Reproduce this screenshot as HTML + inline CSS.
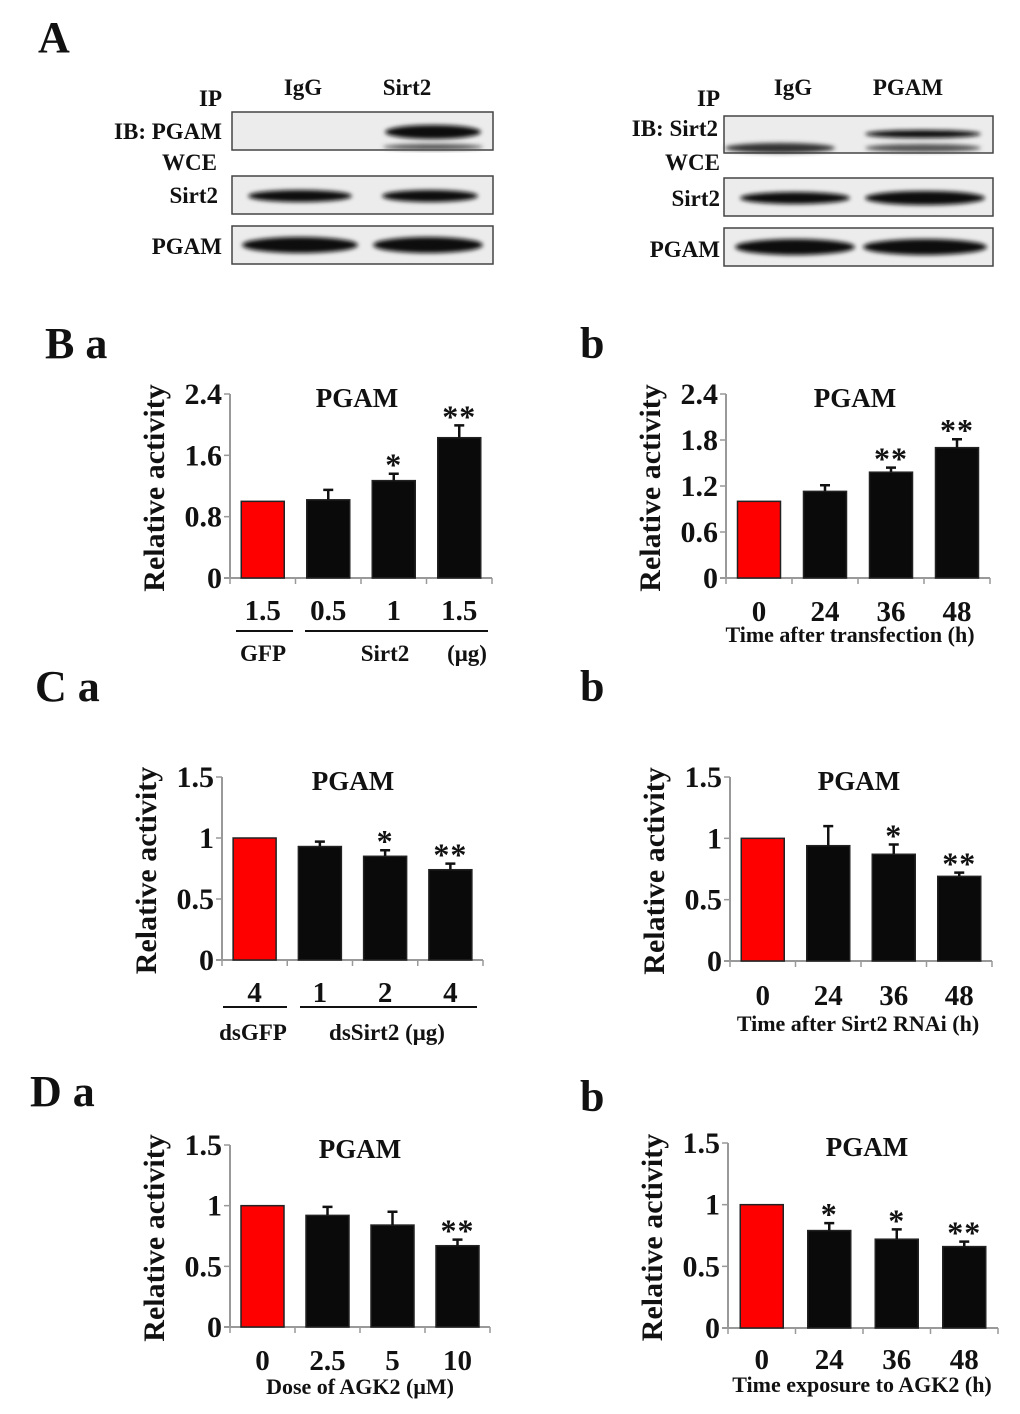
<!DOCTYPE html>
<html><head><meta charset="utf-8"><style>
html,body{margin:0;padding:0;background:#fff}
svg{display:block}
text{font-family:"Liberation Serif",serif;font-weight:bold;fill:#111}
</style></head><body>
<svg id="fig" width="1020" height="1414" viewBox="0 0 1020 1414" xmlns="http://www.w3.org/2000/svg">
<defs>
<filter id="blur" x="-20%" y="-50%" width="140%" height="200%"><feGaussianBlur stdDeviation="2.2"/></filter>
</defs>
<g>
<text x="38" y="52" font-size="44">A</text>
<g>
<text x="222" y="106" font-size="23" text-anchor="end">IP</text>
<text x="303" y="95" font-size="23" text-anchor="middle">IgG</text>
<text x="407" y="95" font-size="23" text-anchor="middle">Sirt2</text>
<text x="222" y="139" font-size="23" text-anchor="end">IB: PGAM</text>
<text x="217" y="170" font-size="23" text-anchor="end">WCE</text>
<text x="218" y="203" font-size="23" text-anchor="end">Sirt2</text>
<text x="222" y="254" font-size="23" text-anchor="end">PGAM</text>
<rect x="232" y="112" width="261" height="38" fill="#ececec" stroke="#444" stroke-width="1.5"/>
<ellipse cx="433" cy="132" rx="48" ry="7" fill="#111" filter="url(#blur)"/>
<ellipse cx="433" cy="147" rx="50" ry="3" fill="#555" filter="url(#blur)"/>
<rect x="232" y="176" width="261" height="38" fill="#ececec" stroke="#444" stroke-width="1.5"/>
<ellipse cx="300" cy="196" rx="52" ry="6" fill="#111" filter="url(#blur)"/>
<ellipse cx="430" cy="196" rx="48" ry="6" fill="#111" filter="url(#blur)"/>
<rect x="232" y="226" width="261" height="38" fill="#ececec" stroke="#444" stroke-width="1.5"/>
<ellipse cx="300" cy="245" rx="58" ry="8" fill="#111" filter="url(#blur)"/>
<ellipse cx="428" cy="245" rx="55" ry="8" fill="#111" filter="url(#blur)"/>
</g>
<g>
<text x="720" y="106" font-size="23" text-anchor="end">IP</text>
<text x="793" y="95" font-size="23" text-anchor="middle">IgG</text>
<text x="908" y="95" font-size="23" text-anchor="middle">PGAM</text>
<text x="718" y="136" font-size="23" text-anchor="end">IB: Sirt2</text>
<text x="720" y="170" font-size="23" text-anchor="end">WCE</text>
<text x="720" y="206" font-size="23" text-anchor="end">Sirt2</text>
<text x="720" y="257" font-size="23" text-anchor="end">PGAM</text>
<rect x="724" y="116" width="269" height="37" fill="#ececec" stroke="#444" stroke-width="1.5"/>
<ellipse cx="923" cy="134" rx="58" ry="4" fill="#111" filter="url(#blur)"/>
<ellipse cx="780" cy="148" rx="55" ry="5" fill="#333" filter="url(#blur)"/>
<ellipse cx="923" cy="148" rx="58" ry="4" fill="#555" filter="url(#blur)"/>
<rect x="724" y="178" width="269" height="38" fill="#ececec" stroke="#444" stroke-width="1.5"/>
<ellipse cx="795" cy="198" rx="55" ry="6" fill="#111" filter="url(#blur)"/>
<ellipse cx="925" cy="198" rx="60" ry="7" fill="#111" filter="url(#blur)"/>
<rect x="724" y="228" width="269" height="38" fill="#ececec" stroke="#444" stroke-width="1.5"/>
<ellipse cx="795" cy="247" rx="60" ry="8" fill="#111" filter="url(#blur)"/>
<ellipse cx="925" cy="247" rx="62" ry="8" fill="#111" filter="url(#blur)"/>
</g>
</g>
<text x="45" y="358" font-size="44">B a</text>
<text x="580" y="358" font-size="44">b</text>
<text x="35" y="701" font-size="44">C a</text>
<text x="580" y="701" font-size="44">b</text>
<text x="30" y="1106" font-size="44">D a</text>
<text x="580" y="1111" font-size="44">b</text>
<g id="charts"></g>
</svg>
<script>
// Chart data
const baCategories = ["1.5","0.5","1","1.5"];
const baValues = [1.0, 1.02, 1.27, 1.83];
const baErrors = [0, 0.13, 0.09, 0.16];
const baStars = ["", "", "*", "**"];
const baTicks = [0, 0.8, 1.6, 2.4];

const bbCategories = ["0","24","36","48"];
const bbValues = [1.0, 1.13, 1.38, 1.70];
const bbErrors = [0, 0.08, 0.06, 0.11];
const bbStars = ["", "", "**", "**"];
const bbTicks = [0, 0.6, 1.2, 1.8, 2.4];

const caCategories = ["4","1","2","4"];
const caValues = [1.0, 0.93, 0.85, 0.74];
const caErrors = [0, 0.04, 0.05, 0.05];
const caStars = ["", "", "*", "**"];
const caTicks = [0, 0.5, 1, 1.5];

const cbCategories = ["0","24","36","48"];
const cbValues = [1.0, 0.94, 0.87, 0.69];
const cbErrors = [0, 0.16, 0.08, 0.03];
const cbStars = ["", "", "*", "**"];
const cbTicks = [0, 0.5, 1, 1.5];

const daCategories = ["0","2.5","5","10"];
const daValues = [1.0, 0.92, 0.84, 0.67];
const daErrors = [0, 0.07, 0.11, 0.05];
const daStars = ["", "", "", "**"];
const daTicks = [0, 0.5, 1, 1.5];

const dbCategories = ["0","24","36","48"];
const dbValues = [1.0, 0.79, 0.72, 0.66];
const dbErrors = [0, 0.06, 0.08, 0.04];
const dbStars = ["", "*", "*", "**"];
const dbTicks = [0, 0.5, 1, 1.5];

const NS = "http://www.w3.org/2000/svg";
const root = document.getElementById("charts");
function mk(tag, attrs, parent) {
  const e = document.createElementNS(NS, tag);
  for (const k in attrs) e.setAttribute(k, attrs[k]);
  parent.appendChild(e);
  return e;
}
function chart(id, L, cats, vals, errs, stars, ticks) {
  const g = mk("g", {}, root);
  
  
  const ymax = ticks[ticks.length - 1];
  const y = v => L.y0 - (v / ymax) * (L.y0 - L.yTop);
  const n = cats.length;
  const slot = (L.xEnd - L.ax) / n;
  const bw = 43;
  const cx = i => L.ax + slot * (i + 0.5);
  const ya = mk("line", {x1: L.ax, x2: L.ax, y1: L.yTop, y2: L.y0, stroke: "#999", "stroke-width": 2}, g);
  
  
  const xa = mk("line", {x1: L.ax - 6, x2: L.xEnd, y1: L.y0, y2: L.y0, stroke: "#999", "stroke-width": 2}, g);
  
  
  for (let i = 0; i <= n; i++) {
    const xx = L.ax + slot * i;
    mk("line", {x1: xx, x2: xx, y1: L.y0, y2: L.y0 + 6, stroke: "#999", "stroke-width": 1.5}, g);
  }
  ticks.forEach(t => {
    mk("line", {x1: L.ax - 6, x2: L.ax, y1: y(t), y2: y(t), stroke: "#999", "stroke-width": 1.5}, g);
    const tl = mk("text", {x: L.ax - 8, y: y(t) + 10, "font-size": 30, "text-anchor": "end"}, g);
    tl.textContent = String(t);
    
    
  });
  const yl = mk("text", {x: 0, y: 0, "font-size": 30, "text-anchor": "middle",
    transform: `translate(${L.ax - 66},${(L.yTop + L.y0) / 2 + 2}) rotate(-90)`}, g);
  yl.textContent = "Relative activity";
  
  
  const tt = mk("text", {x: L.titleX, y: L.yTop + 13, "font-size": 27, "text-anchor": "middle"}, g);
  tt.textContent = "PGAM";
  
  
  vals.forEach((v, i) => {
    const b = mk("rect", {x: cx(i) - bw / 2, y: y(v), width: bw, height: L.y0 - y(v),
      fill: i === 0 ? "#ff0000" : "#0a0a0a", stroke: "#222", "stroke-width": 1.5}, g);
    
    
    if (errs[i] > 0) {
      const top = y(v + errs[i]);
      const e = mk("path", {d: `M${cx(i)},${y(v)} V${top} M${cx(i) - 5},${top} H${cx(i) + 5}`, stroke: "#111", "stroke-width": 2.5, fill: "none"}, g);
      
      
    }
    if (stars[i]) {
      const s = mk("text", {x: cx(i), y: y(v + errs[i]) + 2, "font-size": 32, "text-anchor": "middle", "font-weight": "normal", "letter-spacing": "1"}, g);
      s.textContent = stars[i];
      
      
    }
    const cl = mk("text", {x: cx(i), y: L.labY, "font-size": 29, "text-anchor": "middle"}, g);
    cl.textContent = cats[i];
    
    
  });
  (L.extra || []).forEach(ex => {
    if (ex.line) {
      const ln = mk("line", {x1: ex.line[0], x2: ex.line[1], y1: ex.y, y2: ex.y, stroke: "#111", "stroke-width": 2}, g);
      
      
    } else {
      const t = mk("text", {x: ex.x, y: ex.y, "font-size": ex.fs || 23, "text-anchor": "middle"}, g);
      t.textContent = ex.text;
      
      
    }
  });
}
chart("ba", {ax: 230, xEnd: 492, yTop: 394, y0: 578, titleX: 357, labY: 620,
  extra: [{line: [236, 293], y: 631}, {line: [305, 488], y: 631},
    {x: 263, y: 661, text: "GFP", name: "group-label-gfp"},
    {x: 385, y: 661, text: "Sirt2", name: "group-label-sirt2"},
    {x: 467, y: 661, text: "(μg)", name: "unit-label"}]},
  baCategories, baValues, baErrors, baStars, baTicks);
chart("bb", {ax: 726, xEnd: 990, yTop: 394, y0: 578, titleX: 855, labY: 621,
  extra: [{x: 850, y: 642, text: "Time after transfection (h)", name: "x-axis-title", fs: 22}]},
  bbCategories, bbValues, bbErrors, bbStars, bbTicks);
chart("ca", {ax: 222, xEnd: 483, yTop: 777, y0: 960, titleX: 353, labY: 1002,
  extra: [{line: [223, 287], y: 1007}, {line: [300, 477], y: 1007},
    {x: 253, y: 1040, text: "dsGFP", name: "group-label-dsgfp"},
    {x: 387, y: 1040, text: "dsSirt2 (μg)", name: "group-label-dssirt2"}]},
  caCategories, caValues, caErrors, caStars, caTicks);
chart("cb", {ax: 730, xEnd: 992, yTop: 777, y0: 961, titleX: 859, labY: 1005,
  extra: [{x: 858, y: 1031, text: "Time after Sirt2 RNAi (h)", name: "x-axis-title", fs: 22}]},
  cbCategories, cbValues, cbErrors, cbStars, cbTicks);
chart("da", {ax: 230, xEnd: 490, yTop: 1145, y0: 1327, titleX: 360, labY: 1370,
  extra: [{x: 360, y: 1394, text: "Dose of AGK2 (μM)", name: "x-axis-title", fs: 22}]},
  daCategories, daValues, daErrors, daStars, daTicks);
chart("db", {ax: 728, xEnd: 998, yTop: 1143, y0: 1328, titleX: 867, labY: 1369,
  extra: [{x: 862, y: 1392, text: "Time exposure to AGK2 (h)", name: "x-axis-title", fs: 22}]},
  dbCategories, dbValues, dbErrors, dbStars, dbTicks);
</script>
</body></html>
